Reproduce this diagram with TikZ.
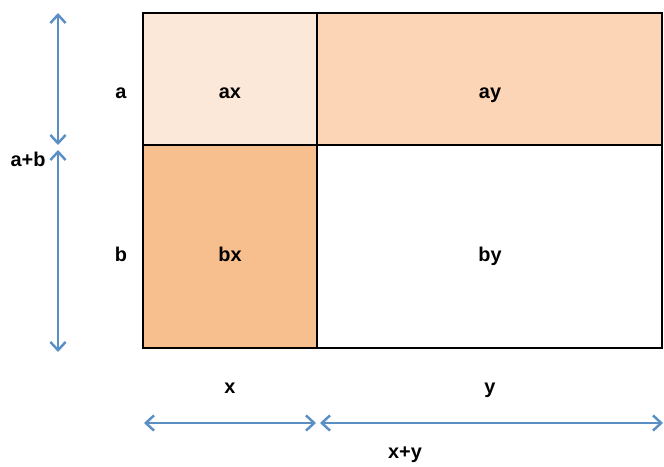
\documentclass[tikz,border=0pt]{standalone}
\usepackage{fontspec}
\setmainfont{Liberation Sans}
\usetikzlibrary{arrows.meta}
\definecolor{ink}{HTML}{000000}
\definecolor{pale}{HTML}{FCE8D9}
\definecolor{mid}{HTML}{FBD5B6}
\definecolor{deep}{HTML}{F8BF8E}
\definecolor{dim}{HTML}{5B8FC4}

\begin{document}
\begin{tikzpicture}[x=0.03cm,y=-0.03cm,font=\fontsize{17}{20}\selectfont\bfseries,>={Straight Barb[length=7pt,width=13pt]}]
\useasboundingbox (0,0) rectangle (664,466);
% the four areas of the rectangle
\fill[pale] (143,13) rectangle (317,145);
\fill[mid] (317,13) rectangle (662,145);
\fill[deep] (143,145) rectangle (317,348);
\draw[ink,line width=1.7pt] (143,13) rectangle (662,348);
\draw[ink,line width=1.7pt] (317,13) -- (317,348) (143,145) -- (662,145);
% labels
\foreach \nm/\px/\py/\txt in {ax/230/95/ax,ay/490/95/ay,bx/230/258/bx,by/490/258/by,
  sa/121/95/a,sb/121/258/b,sx/230/390/x,sy/490/390/y,sab/28/163/a+b,sxy/405/455/x+y}
  \node[text=ink,text height=1.45ex,text depth=0.25ex] (\nm) at (\px,\py) {\txt};
% dimension lines
\coordinate (at) at (58,13);
\coordinate (am) at (58,145);
\coordinate (bm) at (58,150);
\coordinate (bb) at (58,352);
\coordinate (xl) at (144,423);
\coordinate (xr) at (316,423);
\coordinate (yl) at (320,423);
\coordinate (yr) at (663,423);
\draw[dim,line width=2.1pt,<->] (at) -- (am);
\draw[dim,line width=2.1pt,<->] (bm) -- (bb);
\draw[dim,line width=2.1pt,<->] (xl) -- (xr);
\draw[dim,line width=2.1pt,<->] (yl) -- (yr);
\end{tikzpicture}
\end{document}
